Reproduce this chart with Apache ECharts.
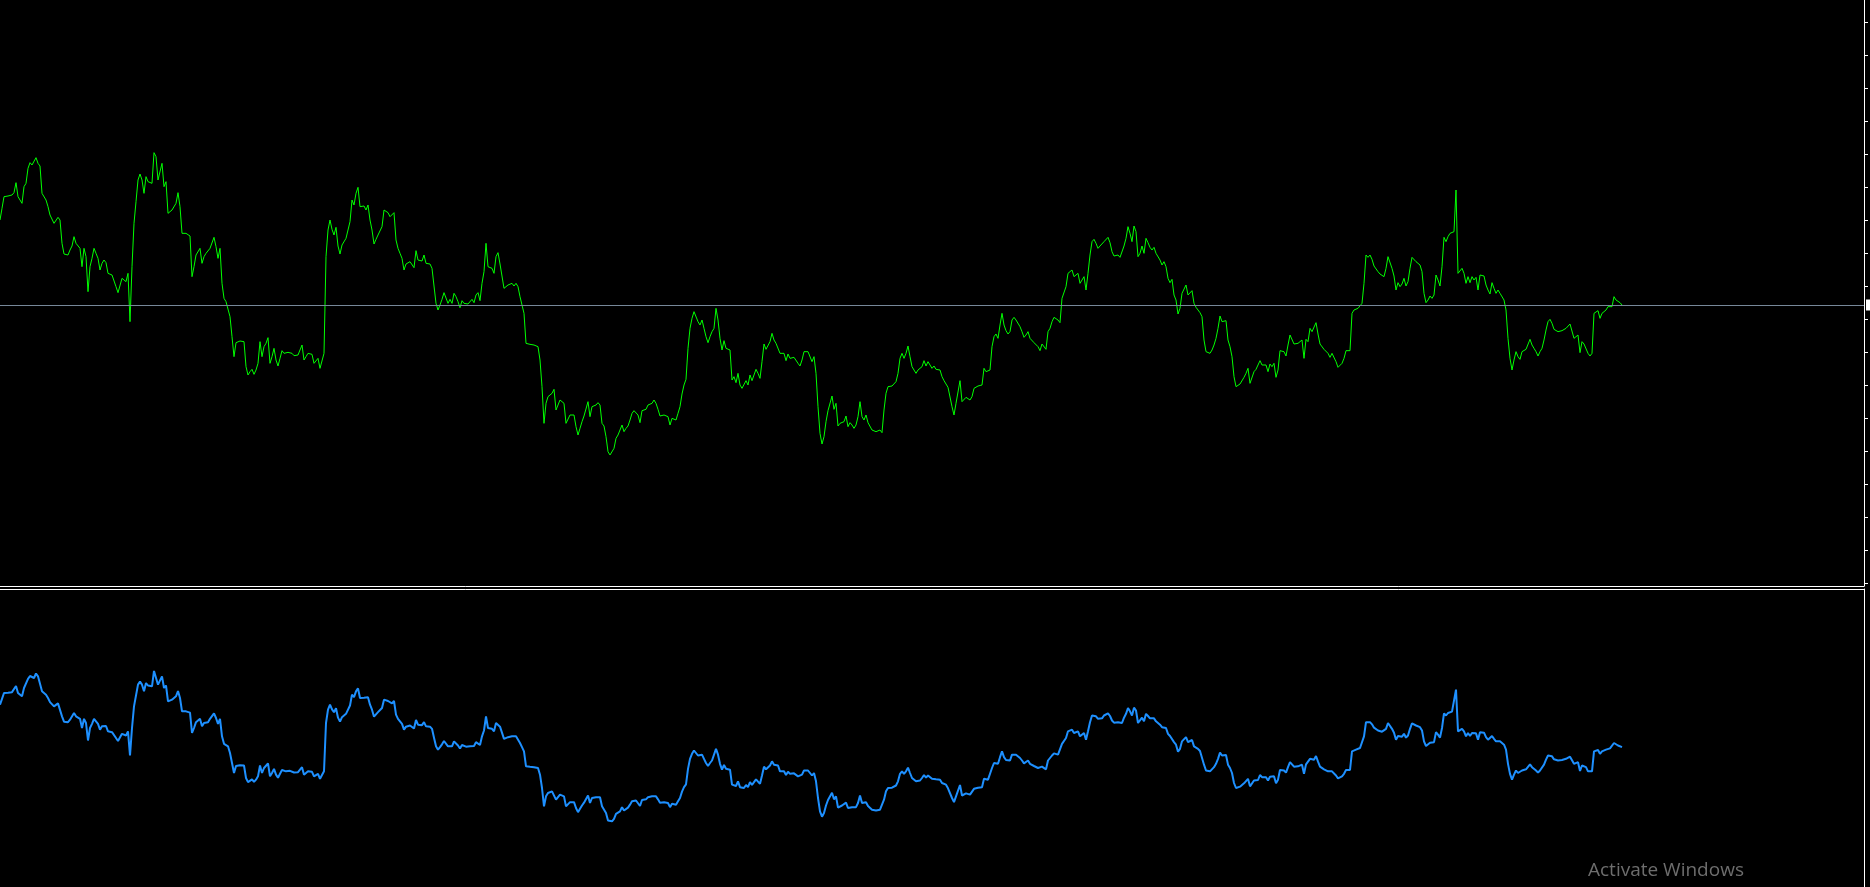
<!DOCTYPE html>
<html>
<head>
<meta charset="utf-8">
<script src="https://cdn.jsdelivr.net/npm/echarts@6/dist/echarts.min.js"></script>
<style>
html,body{margin:0;padding:0;background:#000;}
#chart{width:1870px;height:887px;}
</style>
</head>
<body>
<div id="chart"></div>
<script>
// Close prices (arbitrary price units), one value per bar
const closes = [
760,795,830,835,832,828,835,842,872,830,835,810,860,870,915,932,925,920,947,930,
922,840,845,820,800,775,772,750,755,768,760,690,658,655,655,670,682,710,690,695,
675,620,675,650,545,620,645,675,660,645,610,630,640,632,600,605,595,592,560,542,
538,585,588,575,600,455,620,750,815,880,898,880,840,890,875,880,870,962,950,880,
880,930,860,875,780,785,790,788,810,842,800,720,720,720,715,712,590,620,655,660,
675,630,650,660,655,675,675,708,680,645,675,570,525,515,510,470,410,350,
392,395,397,403,395,320,295,305,312,297,310,330,395,350,380,390,407,330,350,375,
340,322,345,368,360,360,363,363,360,353,354,355,370,385,340,350,360,360,357,330,
335,345,315,320,360,650,730,760,732,715,738,682,658,685,682,705,710,755,820,805,
840,858,800,800,802,790,805,760,730,688,702,715,718,740,790,785,782,770,768,782,
700,675,660,645,610,628,630,635,632,617,668,640,638,637,655,630,635,628,615,562,
510,490,505,522,542,545,510,522,510,540,530,515,497,518,510,508,
508,510,522,512,535,542,518,570,605,690,620,618,615,600,650,662,628,625,555,555,
565,570,570,562,570,560,530,505,480,390,390,387,382,385,382,380,340,260,150,210,
230,235,240,252,190,188,220,215,210,150,150,175,170,175,140,115,135,155,172,175,
215,170,200,195,205,212,205,150,142,110,65,55,60,75,105,115,120,145,125,135,
142,160,180,188,185,175,152,188,185,192,205,205,210,220,210,192,172,172,175,172,
170,145,165,170,160,180,200,238,265,282,375,435,465,485,485,455,
445,460,435,410,392,410,425,435,495,460,405,370,398,375,378,370,280,290,272,300,
265,255,260,278,265,295,278,295,312,300,285,335,388,372,375,395,420,400,390,395,
360,358,360,338,358,345,345,348,345,330,322,340,365,370,365,365,335,350,300,200,
120,88,110,155,188,192,232,192,210,142,150,155,155,172,140,152,145,135,145,170,
215,170,160,175,152,155,130,125,125,125,130,122,190,240,260,260,262,265,275,300,
345,360,345,360,382,350,320,315,300,310,305,320,338,322,335,340,
315,322,312,315,310,290,278,280,258,255,200,175,210,215,278,215,220,228,230,220,
230,255,252,262,262,265,315,305,310,310,380,410,418,405,445,480,445,428,418,425,
460,468,460,460,440,425,408,415,425,405,402,392,388,380,368,388,385,372,425,435,
455,468,470,460,452,525,525,560,600,602,610,590,592,600,570,580,590,550,600,655,
695,702,690,675,682,678,695,700,708,692,665,652,655,655,648,650,682,705,740,720,
695,742,725,650,660,682,660,705,692,678,670,678,660,655,640,625,
635,620,585,572,582,535,520,478,495,540,535,565,535,540,548,510,498,495,482,470,
400,365,360,360,370,385,405,435,472,455,450,458,400,380,350,290,260,265,268,267,
288,300,315,270,272,305,312,308,338,325,320,325,305,328,320,330,288,310,368,372,
365,352,385,415,415,388,382,390,390,400,345,402,395,435,425,430,452,418,388,382,
372,370,360,348,360,358,335,318,317,330,345,368,367,368,480,490,490,495,500,510,
570,655,648,655,642,622,620,605,598,598,590,615,650,652,615,592,
550,572,560,568,585,562,575,615,648,648,635,630,625,605,540,512,520,532,525,535,
595,580,562,620,708,695,710,720,718,725,850,600,605,615,600,570,590,572,590,580,
588,550,595,590,592,565,550,538,572,555,540,550,540,545,520,490,405,345,310,340,
365,350,342,365,370,372,375,402,385,375,365,352,365,375,400,430,455,462,450,432,
430,425,430,428,425,435,440,448,445,405,410,415,362,395,388,385,360,352,360,480,
482,488,465,480,485,490,500,498,500,530,520,515,512,505
];
const TOTAL_BARS = 933;              // bars that fit across the chart width
const categories = Array.from({length: TOTAL_BARS}, (_, i) => String(i + 1));
const lastPrice = 505;               // current price line
const priceTicks = [-330,-231,-132,-33,66,165,264,363,462,561,660,759,858,957,1056,1155,1254,1353];

const chart = echarts.init(document.getElementById('chart'), null, {renderer: 'canvas'});
chart.setOption({
  backgroundColor: '#000000',
  animation: false,
  grid: [
    {left: 0, top: 0, width: 1864, height: 586},
    {left: 0, top: 589, width: 1864, height: 298}
  ],
  xAxis: [
    {type: 'category', gridIndex: 0, data: categories, boundaryGap: false, position: 'bottom',
     axisLine: {show: true, onZero: false, lineStyle: {color: '#ffffff', width: 1}},
     axisTick: {show: false}, axisLabel: {show: false}, splitLine: {show: false}},
    {type: 'category', gridIndex: 1, data: categories, boundaryGap: false, position: 'top',
     axisLine: {show: true, onZero: false, lineStyle: {color: '#ffffff', width: 1}},
     axisTick: {show: false}, axisLabel: {show: false}, splitLine: {show: false}}
  ],
  yAxis: [
    {type: 'value', gridIndex: 0, position: 'right', min: -338, max: 1420, scale: true,
     axisLine: {show: true, lineStyle: {color: '#ffffff', width: 1}},
     axisTick: {show: true, inside: false, length: 4, customValues: priceTicks, lineStyle: {color: '#ffffff'}},
     axisLabel: {show: false, customValues: priceTicks}, splitLine: {show: false}},
    {type: 'value', gridIndex: 1, position: 'right', min: -334, max: 1454, scale: true,
     axisLine: {show: true, lineStyle: {color: '#ffffff', width: 1}},
     axisTick: {show: false}, axisLabel: {show: false}, splitLine: {show: false}}
  ],
  series: [
    {type: 'line', xAxisIndex: 0, yAxisIndex: 0, data: closes, showSymbol: false, symbol: 'none',
     lineStyle: {color: '#00ff00', width: 1}, silent: true,
     markLine: {silent: true, symbol: 'none', animation: false,
       lineStyle: {color: '#778899', width: 1, type: 'solid'},
       label: {show: true, position: 'end', distance: 2, formatter: '  ', backgroundColor: '#ffffff',
               color: '#000', fontSize: 9, padding: [1, 6]},
       data: [{yAxis: lastPrice}]}},
    {type: 'line', xAxisIndex: 1, yAxisIndex: 1, data: closes, showSymbol: false, symbol: 'none',
     lineStyle: {color: '#1e90ff', width: 2}, silent: true}
  ],
  graphic: [
    {type: 'text', left: 1588, top: 861, silent: true,
     style: {text: 'Activate Windows', fill: '#6d6d6d', font: '19px "Open Sans", "Noto Sans", sans-serif'}}
  ]
});
</script>
</body>
</html>
